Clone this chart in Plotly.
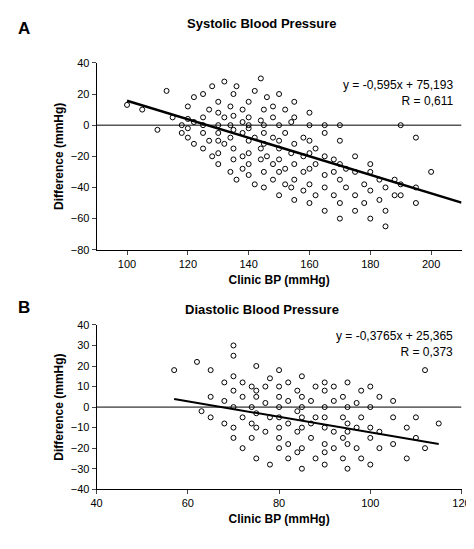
import numpy as np
import plotly.graph_objects as go

# Systolic: clinic BP vs difference (grouped by x)
sys_groups = {
    100: [13], 105: [10], 110: [-3], 113: [22], 115: [5], 118: [0, -5],
    120: [12, -2, -8, 4], 122: [18, -12, 2], 125: [20, 5, -5, -15, 0],
    127: [-10, 10], 128: [25, -20], 130: [15, 0, -5, -10, -18, 8, -25],
    132: [28, 5, -12], 134: [-30, 0, 12, -8], 135: [20, -15, -3, 6, -22],
    136: [25, -35], 138: [10, -5, -20, 2, -28],
    140: [15, -10, -2, -25, 5, -18, -32, 0], 142: [22, -8, -38],
    144: [30, -15, 3, -22], 145: [10, -5, -30, -12, 0, -40], 146: [-20, 18],
    148: [-25, -8, 5, -35, 12], 150: [-15, -30, 0, -45, -10, 20, -22],
    152: [-5, -28, 10, -38], 154: [-18, -40, 2], 155: [-12, -25, -35, 5, -48, 15],
    158: [-20, -30, -8, -42], 160: [-10, -28, -38, 0, -50, -18, 8],
    162: [-25, -45, -15], 165: [-32, -20, -40, -55, -5, 0], 168: [-30, -45, -22],
    170: [-35, -25, -50, -10, -60, 0], 172: [-40, -28], 175: [-30, -45, -55, -20],
    178: [-38, -50], 180: [-42, -30, -60, -25], 183: [-48, -35], 185: [-65, -40, -55],
    188: [-35, -45], 190: [-38, 0, -45], 195: [-40, -8, -50], 200: [-30],
}
dia_groups = {
    57: [18], 62: [22], 63: [-2], 65: [18, 5, -5], 68: [3, -8, 12],
    70: [30, 25, 0, -10, 8, -15, 15], 72: [5, -5, -20, 12], 74: [10, -8, 0, -15],
    75: [20, -25, 5, -10, -3, 8], 77: [-12, 2, 10], 78: [-28, -5, 14],
    80: [0, -10, 10, -20, 5, -15, 18, -5], 82: [-8, 3, -18, 12, -25],
    84: [-2, -12, 8, -22], 85: [0, -10, 5, -20, 15, -30, -5], 87: [-8, 3, -15],
    88: [10, -25, -5], 90: [-10, 0, -18, 8, -28, 12, -5, -22], 92: [-12, 3, -20, 10],
    94: [-15, -5, -25, 5], 95: [-8, 0, -18, -30, 12, -12], 97: [-20, 2, -10],
    98: [-25, -5, 8], 100: [-15, 0, -28, -10, 10], 102: [-12, 5, -20],
    105: [-5, -18, 3], 108: [-10, -25], 110: [-15, -5], 112: [18, -20], 115: [-8],
}

sys_x = [k for k, v in sys_groups.items() for _ in v]
sys_y = [y for v in sys_groups.values() for y in v]
dia_x = [k for k, v in dia_groups.items() for _ in v]
dia_y = [y for v in dia_groups.values() for y in v]

sys_fit = (-0.595, 75.193)
dia_fit = (-0.3765, 25.365)
sys_line_x = [100, 210]
dia_line_x = [57, 115]

FONT = "Liberation Sans, Arial"
fig = go.Figure()
mk = dict(symbol="circle-open", size=5, color="black", line=dict(width=1))

fig.add_trace(go.Scatter(x=sys_x, y=sys_y, mode="markers", marker=mk, xaxis="x", yaxis="y"))
fig.add_trace(go.Scatter(x=sys_line_x, y=[sys_fit[0] * x + sys_fit[1] for x in sys_line_x],
                         mode="lines", line=dict(color="black", width=2.5), xaxis="x", yaxis="y"))
fig.add_trace(go.Scatter(x=dia_x, y=dia_y, mode="markers", marker=mk, xaxis="x2", yaxis="y2"))
fig.add_trace(go.Scatter(x=dia_line_x, y=[dia_fit[0] * x + dia_fit[1] for x in dia_line_x],
                         mode="lines", line=dict(color="black", width=2), xaxis="x2", yaxis="y2"))

ax = dict(showline=True, linecolor="black", linewidth=1, ticks="outside", ticklen=4,
          showgrid=False, zeroline=False, tickfont=dict(size=11, color="black", family=FONT),
          title_font=dict(size=12, color="black", family=FONT))
bold = lambda s: "<b>" + s + "</b>"

fig.update_layout(
    width=474, height=549, showlegend=False, plot_bgcolor="white", paper_bgcolor="white",
    margin=dict(l=0, r=0, t=0, b=0), font=dict(family=FONT, color="black"),
    xaxis=dict(ax, domain=[0.18, 0.975], range=[90, 210], dtick=20, anchor="y",
               title=dict(text=bold("Clinic BP (mmHg)"), standoff=6)),
    yaxis=dict(ax, domain=[0.561, 0.909], range=[-80, 40], dtick=20, anchor="x",
               title=dict(text=bold("Difference (mmHg)"), standoff=4)),
    xaxis2=dict(ax, domain=[0.18, 0.975], range=[40, 120], dtick=20, anchor="y2",
                title=dict(text=bold("Clinic BP (mmHg)"), standoff=6)),
    yaxis2=dict(ax, domain=[0.115, 0.421], range=[-40, 40], dtick=10, anchor="x2",
                title=dict(text=bold("Difference (mmHg)"), standoff=4)),
    shapes=[
        dict(type="line", xref="x", yref="y", x0=90, x1=210, y0=0, y1=0, line=dict(color="black", width=1)),
        dict(type="line", xref="x2", yref="y2", x0=40, x1=120, y0=0, y1=0, line=dict(color="black", width=1)),
    ],
    annotations=[
        dict(text=bold("A"), x=0.005, y=0.995, xref="paper", yref="paper", showarrow=False,
             xanchor="left", yanchor="top", font=dict(size=17)),
        dict(text=bold("Systolic Blood Pressure"), x=0.54, y=1.0, xref="paper", yref="paper",
             showarrow=False, yanchor="top", font=dict(size=13)),
        dict(text="y = -0,595x + 75,193<br>R = 0,611", x=0.96, y=0.885, xref="paper", yref="paper",
             showarrow=False, xanchor="right", yanchor="top", align="right", font=dict(size=12)),
        dict(text=bold("B"), x=0.005, y=0.475, xref="paper", yref="paper", showarrow=False,
             xanchor="left", yanchor="top", font=dict(size=17)),
        dict(text=bold("Diastolic Blood Pressure"), x=0.54, y=0.468, xref="paper", yref="paper",
             showarrow=False, yanchor="top", font=dict(size=13)),
        dict(text="y = -0,3765x + 25,365<br>R = 0,373", x=0.96, y=0.418, xref="paper", yref="paper",
             showarrow=False, xanchor="right", yanchor="top", align="right", font=dict(size=12)),
    ],
)
fig.write_html("out.html")
